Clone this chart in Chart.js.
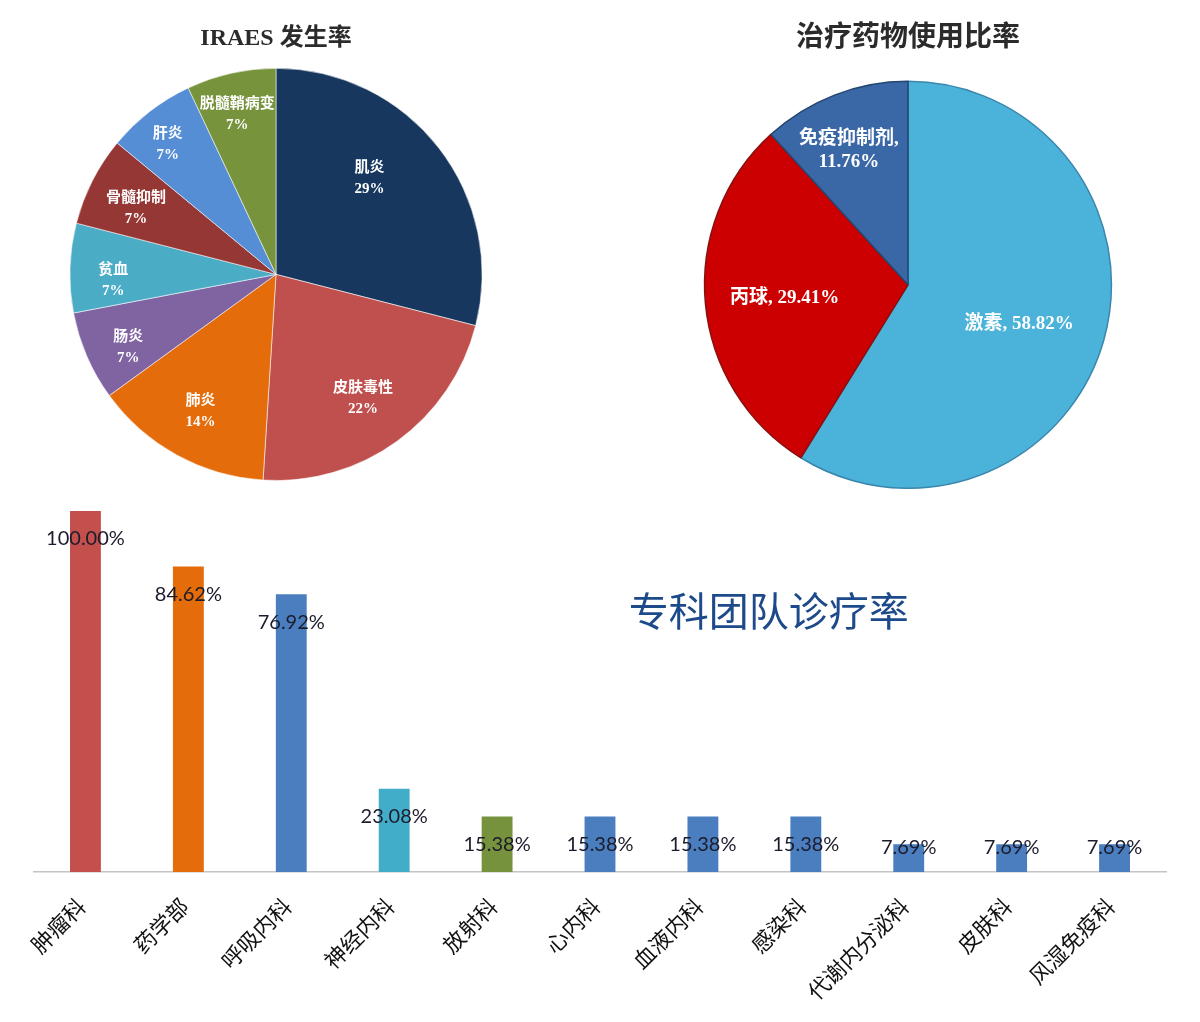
<!DOCTYPE html>
<html><head><meta charset="utf-8">
<script src="https://cdn.jsdelivr.net/npm/chart.js@4.4.1/dist/chart.umd.min.js"></script>
<style>
html,body{margin:0;padding:0;background:#fff;width:1200px;height:1022px;overflow:hidden;}
.box{position:absolute;}
</style></head><body>
<div class="box" style="left:0;top:0;width:552px;height:481px"><canvas id="pie1"></canvas></div>
<div class="box" style="left:678px;top:0;width:460px;height:489px"><canvas id="pie2"></canvas></div>
<div class="box" style="left:0;top:495px;width:1200px;height:527px"><canvas id="bar"></canvas></div>
<script>
// ---- data ----
const irTitle = 'IRAES 发生率';
const irLabels = ['肌炎','皮肤毒性','肺炎','肠炎','贫血','骨髓抑制','肝炎','脱髓鞘病变'];
const irValues = [29,22,14,7,7,7,7,7];

const drugTitle = '治疗药物使用比率';
const drugLabels = ['激素','丙球','免疫抑制剂'];
const drugValues = [58.82,29.41,11.76];

const deptTitle = '专科团队诊疗率';
const deptLabels = ['肿瘤科','药学部','呼吸内科','神经内科','放射科','心内科','血液内科','感染科','代谢内分泌科','皮肤科','风湿免疫科'];
const deptValues = [100.00,84.62,76.92,23.08,15.38,15.38,15.38,15.38,7.69,7.69,7.69];

// ---- styles ----
const irColors = ['#17375e','#c0504d','#e46c0a','#8064a2','#4bacc6','#953735','#558ed5','#77933c'];
const drugColors = ['#4bb3d9','#cc0000','#3a67a5'];
const drugBorders = ['#3b86ad','#8a1010','#24466f'];
const deptColors = ['#c4504d','#e46c0a','#4a7ebf','#42adc9','#76923c','#4a7ebf','#4a7ebf','#4a7ebf','#4a7ebf','#4a7ebf','#4a7ebf'];

const LABEL_FONT = "'Liberation Serif','Noto Sans CJK SC'";

function makePieLabels(cfg){
  return {
    id: 'pieLabels',
    afterDatasetsDraw(chart){
      const ctx = chart.ctx;
      const meta = chart.getDatasetMeta(0);
      const ds = chart.data.datasets[0];
      ctx.save();
      ctx.fillStyle = '#ffffff';
      ctx.font = cfg.font;
      ctx.textAlign = 'center';
      ctx.textBaseline = 'middle';
      meta.data.forEach((arc, i) => {
        const p = arc.getProps(['x','y','startAngle','endAngle','outerRadius'], true);
        const mid = (p.startAngle + p.endAngle)/2 + (cfg.shift[i]||0)*Math.PI/180;
        const r = p.outerRadius * cfg.radius[i];
        const cx = p.x + Math.cos(mid)*r, cy = p.y + Math.sin(mid)*r;
        const lines = cfg.lines(chart.data.labels[i], ds.data[i], i);
        lines.forEach((t, k) => ctx.fillText(t, cx, cy + (k - (lines.length-1)/2)*cfg.lineHeight));
      });
      ctx.restore();
    }
  };
}

Chart.defaults.font.family = "'Noto Sans CJK SC'";

new Chart(document.getElementById('pie1'), {
  type: 'pie',
  data: { labels: irLabels, datasets: [{ data: irValues, backgroundColor: irColors,
    borderColor: 'rgba(255,255,255,0.55)', borderWidth: 1 }] },
  options: {
    responsive: true, maintainAspectRatio: false, animation: false,
    layout: { padding: 0 },
    plugins: {
      legend: { display: false }, tooltip: { enabled: false },
      title: { display: true, text: irTitle, color: '#2b2b2b',
        font: { family: LABEL_FONT, size: 24, weight: 'bold' },
        padding: { top: 24, bottom: 15 } }
    }
  },
  plugins: [makePieLabels({
    font: "bold 15px " + LABEL_FONT, lineHeight: 21,
    radius: [0.65,0.735,0.76,0.80,0.79,0.75,0.82,0.80],
    shift: [-8,1,0,-3,-4,-2,-2,-1],
    lines: (l, v) => [l, Math.round(v) + '%']
  })]
});

new Chart(document.getElementById('pie2'), {
  type: 'pie',
  data: { labels: drugLabels, datasets: [{ data: drugValues, backgroundColor: drugColors,
    borderColor: drugBorders, borderWidth: 1.5 }] },
  options: {
    responsive: true, maintainAspectRatio: false, animation: false,
    layout: { padding: 0 },
    plugins: {
      legend: { display: false }, tooltip: { enabled: false },
      title: { display: true, text: drugTitle, color: '#2b2b2b',
        font: { family: LABEL_FONT, size: 28, weight: 'bold' },
        padding: { top: 22, bottom: 25 } }
    }
  },
  plugins: [makePieLabels({
    font: "bold 19px " + LABEL_FONT, lineHeight: 23,
    radius: [0.58,0.61,0.72],
    shift: [3.8,-0.7,-2.6],
    lines: (l, v, i) => i === 2 ? [l + ',', v.toFixed(2) + '%'] : [l + ', ' + v.toFixed(2) + '%']
  })]
});

const barValueLabels = {
  id: 'barValueLabels',
  afterDatasetsDraw(chart){
    const ctx = chart.ctx;
    const meta = chart.getDatasetMeta(0);
    const base = chart.chartArea.bottom;
    ctx.save();
    ctx.font = "20px Lato, 'Open Sans', sans-serif";
    ctx.fillStyle = '#1c1c2c';
    ctx.textAlign = 'center';
    ctx.textBaseline = 'middle';
    meta.data.forEach((bar, i) => {
      const y = Math.min(bar.y + 28, base - 24);
      ctx.fillText(chart.data.datasets[0].data[i].toFixed(2) + '%', bar.x, y);
    });
    ctx.restore();
  }
};
const barTitlePlugin = {
  id: 'barTitle',
  afterDraw(chart){
    const {ctx, chartArea: a} = chart;
    ctx.save();
    ctx.font = "40px 'Noto Sans CJK SC'";
    ctx.fillStyle = '#1d4a8a';
    ctx.textAlign = 'center';
    ctx.textBaseline = 'middle';
    ctx.fillText(deptTitle, a.left + a.width*0.649, a.top + a.height*0.277);
    ctx.restore();
  }
};

new Chart(document.getElementById('bar'), {
  type: 'bar',
  data: { labels: deptLabels, datasets: [{ data: deptValues, backgroundColor: deptColors,
    barPercentage: 0.3, categoryPercentage: 1.0 }] },
  options: {
    responsive: true, maintainAspectRatio: false, animation: false,
    layout: { padding: { left: 34, right: 34, top: 16, bottom: 0 } },
    plugins: { legend: { display: false }, tooltip: { enabled: false } },
    scales: {
      x: {
        grid: { display: false },
        border: { display: true, color: '#c4c4c4', width: 1.5 },
        ticks: { maxRotation: 45, minRotation: 45, autoSkip: false, padding: 13, labelOffset: -4, color: '#111',
          font: { family: "'Noto Sans CJK SC'", size: 22 } },
        afterFit: s => { s.height = 150; }
      },
      y: { display: false, min: 0, max: 100 }
    }
  },
  plugins: [barValueLabels, barTitlePlugin]
});
</script>
</body></html>
